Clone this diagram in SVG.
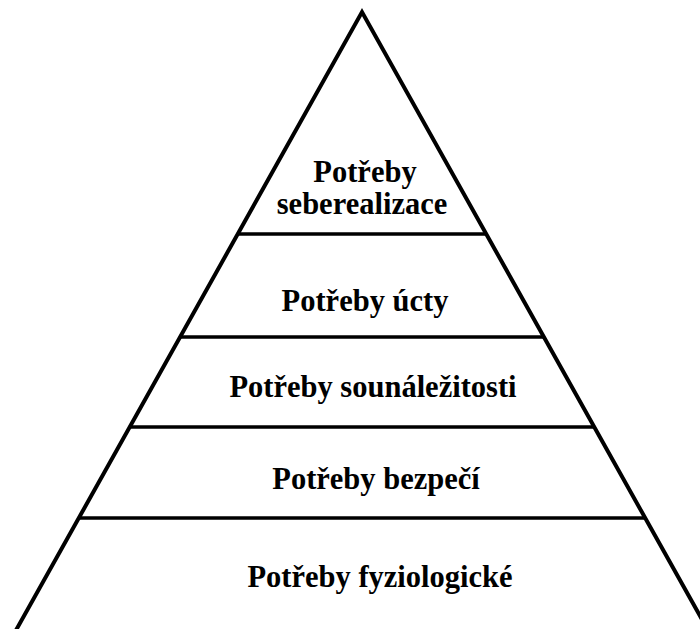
<svg xmlns="http://www.w3.org/2000/svg" width="700" height="629" viewBox="0 0 700 629">
<style>
.side{stroke:#000;stroke-width:4;fill:none;stroke-linecap:butt}
.lvl{stroke:#000;stroke-width:3.5;fill:none}
.t{font-family:"Liberation Serif","Times New Roman",serif;font-weight:bold;font-size:30.5px;fill:#000;text-anchor:middle}
</style>
<rect width="700" height="629" fill="#fff"/>
<g id="connectors">
<polyline class="side" points="15,632 362,12 709,632"/>
<line class="lvl" x1="238" y1="234" x2="486" y2="234"/>
<line class="lvl" x1="181" y1="337" x2="545" y2="337"/>
<line class="lvl" x1="130" y1="427" x2="594" y2="427"/>
<line class="lvl" x1="79" y1="518" x2="645" y2="518"/>
</g>
<g id="level5"><text class="t" x="365" y="182">Potřeby</text><text class="t" x="362" y="214">seberealizace</text></g>
<g id="level4"><text class="t" x="365" y="311">Potřeby úcty</text></g>
<g id="level3"><text class="t" x="373" y="397">Potřeby sounáležitosti</text></g>
<g id="level2"><text class="t" x="376" y="489">Potřeby bezpečí</text></g>
<g id="level1"><text class="t" x="380" y="587">Potřeby fyziologické</text></g>
</svg>
